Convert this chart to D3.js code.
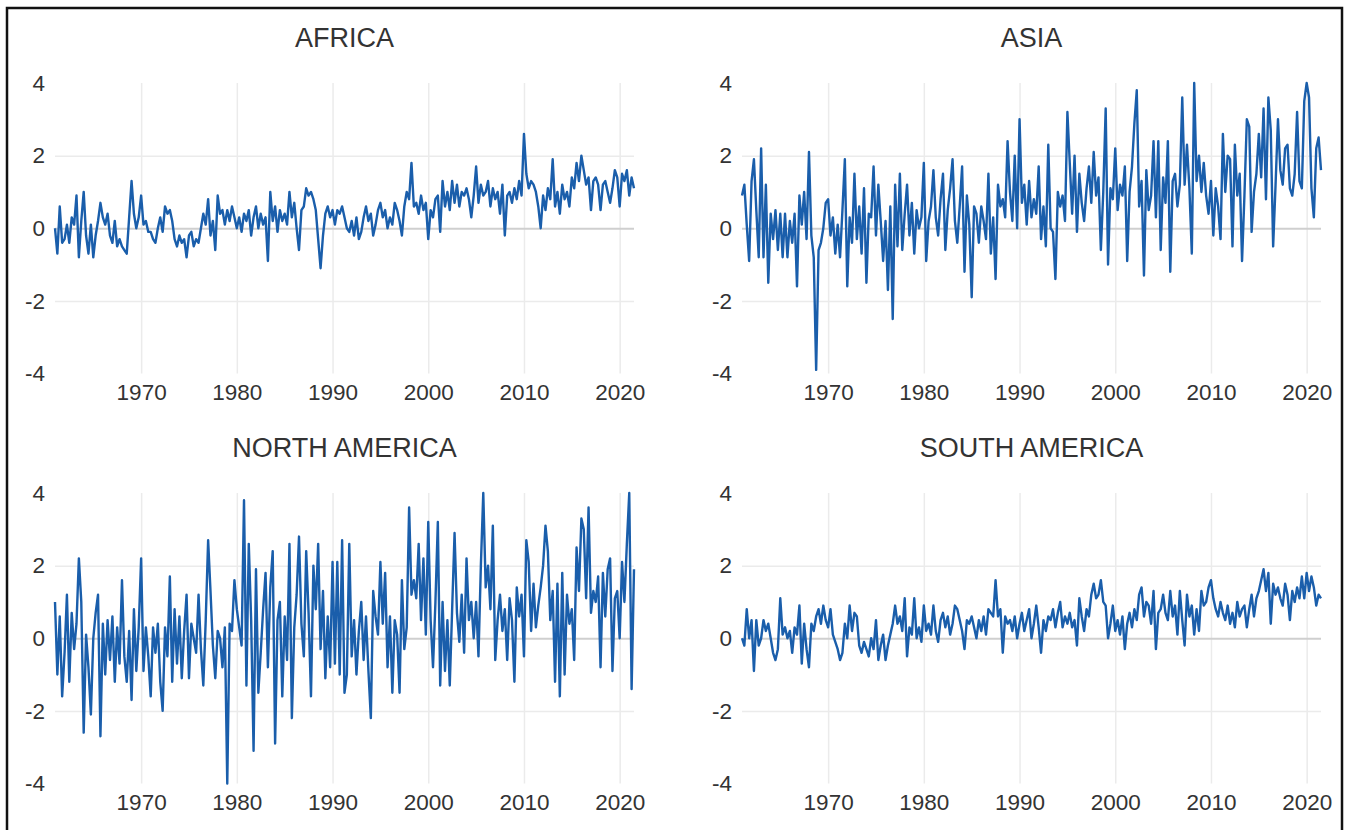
<!DOCTYPE html>
<html>
<head>
<meta charset="utf-8">
<script src="https://cdnjs.cloudflare.com/ajax/libs/d3/7.8.5/d3.min.js"></script>
<style>
  body { margin: 0; background: #fff; }
  svg text { font-family: "Liberation Sans", Arial, sans-serif; fill: #333; }
</style>
</head>
<body>
<svg id="chart" width="1349" height="830"></svg>
<script>
// quarterly anomalies, 1961 Q1 .. 2021 Q3
const africa = [
  0.0,-0.7,0.6,-0.4, -0.3,0.1,-0.4,0.3, 0.1,0.9,-0.8,0.2, 1.0,-0.2,-0.7,0.1, -0.8,-0.2,0.2,0.7, 0.3,0.1,0.4,-0.2, -0.4,0.2,-0.5,-0.3, -0.5,-0.6,-0.7,0.3, 1.3,0.4,0.0,0.3, 0.9,0.1,0.2,-0.1,
  -0.1,-0.3,-0.4,0.0, 0.3,-0.1,0.6,0.4, 0.5,0.2,-0.3,-0.5, -0.2,-0.4,-0.3,-0.8, -0.2,-0.1,-0.5,-0.3, -0.4,0.0,0.4,0.1, 0.8,-0.2,0.2,-0.6, 0.9,0.4,0.5,0.1, 0.5,0.2,0.6,0.3, 0.0,0.3,-0.1,0.4,
  0.2,0.5,-0.2,0.3, 0.6,0.0,0.4,0.1, 0.3,-0.9,1.0,0.2, 0.6,-0.1,0.5,0.2, 0.4,0.1,1.0,0.3, 0.7,0.0,-0.6,0.5, 0.6,1.1,0.9,1.0, 0.8,0.5,-0.3,-1.1, -0.2,0.4,0.6,0.3, 0.5,0.1,0.5,0.4,
  0.6,0.3,0.0,-0.1, 0.2,-0.2,0.3,-0.3, -0.1,0.3,0.6,0.2, 0.4,-0.2,0.1,0.5, 0.7,0.3,0.5,0.0, 0.3,0.1,0.7,0.5, 0.2,-0.2,0.6,1.0, 0.8,1.8,0.6,0.7, 0.4,0.9,0.5,0.7, -0.3,0.5,0.3,0.8,
  0.9,-0.1,1.3,0.6, 1.0,0.5,1.3,0.7, 1.2,0.6,1.0,0.9, 1.1,0.8,0.3,0.9, 1.7,0.7,1.2,0.9, 1.0,1.3,0.6,1.1, 0.8,1.0,0.4,1.2, -0.2,0.9,1.0,0.7, 1.1,0.8,1.3,0.9, 2.6,1.5,1.1,1.3,
  1.2,1.0,0.6,0.0, 0.9,0.5,1.1,0.8, 1.9,0.6,1.0,0.4, 1.2,0.8,1.0,0.6, 1.4,1.1,1.8,1.3, 2.0,1.6,1.2,1.4, 0.5,1.3,1.4,1.2, 0.5,1.2,1.3,1.0, 0.7,1.1,1.6,1.4, 0.6,1.5,1.3,1.6,
  0.9,1.4,1.1
];

const asia = [
  0.9,1.2,0.1,-0.9, 1.3,1.9,0.5,-0.8, 2.2,-0.8,1.2,-1.5, 0.4,-0.3,0.5,-0.6, 0.4,-0.8,0.4,-0.8, 0.2,-0.4,0.4,-1.6, 0.9,0.1,1.0,-0.3, 2.1,-0.2,-0.8,-3.9, -0.6,-0.4,0.0,0.7, 0.8,-0.2,0.3,-0.7,
  0.1,-0.8,0.5,1.9, -1.6,0.3,-0.4,1.5, -0.3,0.6,-0.7,1.1, -1.5,0.4,0.3,1.7, -0.2,1.2,0.2,-0.9, 0.2,-1.7,0.6,-2.5, 1.2,-0.5,1.5,-0.6, 0.4,1.2,-0.2,0.7, -0.7,0.5,0.0,0.3, 1.8,-0.9,0.2,0.6,
  1.6,0.3,-0.2,0.8, 1.5,-0.6,0.5,1.1, 1.9,0.2,-0.4,0.6, 1.7,-1.2,0.9,0.1, -1.9,0.6,0.4,-0.4, 0.6,0.2,-0.3,1.5, -0.7,0.3,-1.4,1.2, 0.6,0.8,0.3,2.4, 1.0,0.2,2.0,0.0, 3.0,0.7,1.2,0.1,
  1.3,0.3,0.8,0.4, 1.7,-0.3,0.6,-0.5, 2.3,0.0,-0.1,-1.4, 1.0,0.6,0.9,0.2, 3.2,1.8,0.4,2.0, -0.1,1.5,0.7,0.2, 1.1,1.7,0.7,2.1, 0.9,1.4,-0.6,1.0, 3.3,-1.0,1.1,0.8, 2.2,0.5,1.2,0.9,
  1.7,-0.9,1.0,1.7, 2.9,3.8,0.6,1.3, -1.3,1.6,0.5,0.9, 2.4,0.3,2.4,-0.6, 1.4,0.7,2.4,-1.2, 1.3,1.5,0.6,1.2, 3.6,1.2,2.3,1.1, -0.7,4.0,1.3,2.0, 1.0,1.8,0.9,0.4, 1.3,-0.2,1.1,0.6,
  -0.3,2.6,1.0,2.0, 1.9,-0.5,2.3,0.9, 1.5,-0.9,0.9,3.0, 2.8,-0.1,1.0,1.5, 2.6,1.4,3.3,0.8, 3.6,2.7,-0.5,1.2, 3.0,1.6,1.2,2.2, 2.3,1.1,0.9,1.5, 3.2,1.3,1.1,3.5, 4.0,3.6,1.1,0.3,
  2.2,2.5,1.6
];

const northAmerica = [
  1.0,-1.0,0.6,-1.6, -0.4,1.2,-1.2,0.7, -0.3,0.4,2.2,1.0, -2.6,0.1,-0.8,-2.1, 0.0,0.7,1.2,-2.7, 0.4,-1.0,0.5,-0.6, 0.6,-1.2,0.3,-0.7, 1.6,-0.5,-1.2,0.2, -1.7,0.8,-0.9,0.3, 2.2,-0.9,0.3,-0.5,
  -1.6,0.3,-0.4,0.4, -1.2,-2.0,0.3,-0.5, 1.7,-1.2,0.8,-0.7, 0.6,-1.1,0.2,1.2, -1.1,0.4,0.0,-0.4, 1.2,-0.3,-1.3,0.5, 2.7,1.3,-0.2,-1.1, 0.2,0.0,-0.8,0.3, -4.0,0.4,0.2,1.6, 0.8,0.3,-0.2,3.8,
  -1.3,2.6,0.5,-3.1, 1.9,-1.5,-0.4,0.8, 1.8,-0.8,1.4,2.4, -2.9,0.5,1.0,-1.6, 0.6,-0.6,2.6,-2.2, 0.3,1.2,2.8,0.4, -0.5,2.4,0.7,-1.6, 2.0,0.8,2.6,-0.3, 1.3,-1.1,0.6,-0.8, 2.1,-0.7,2.1,-1.0,
  2.7,-1.5,-1.0,2.6, -0.5,0.5,-1.0,0.2, 1.0,-0.6,0.6,-0.9, -2.2,1.3,0.6,0.1, 2.1,0.4,1.8,-0.8, 0.6,-1.5,0.5,0.1, -1.5,1.6,-0.3,0.3, 3.6,1.2,1.6,1.1, 2.6,0.5,2.2,0.1, 3.2,0.5,-0.8,1.0,
  3.2,-1.3,1.0,-0.9, 0.5,-1.3,0.8,2.9, 0.7,-0.1,1.2,-0.4, 2.2,0.5,1.0,0.0, 1.0,-0.5,2.0,4.0, 1.4,2.0,0.8,3.1, -0.6,0.5,1.2,0.2, 0.8,-0.6,1.1,0.5, -1.2,1.4,0.6,1.2, -0.5,2.7,2.1,0.2,
  1.5,0.3,0.9,1.4, 2.0,3.1,2.4,0.5, 1.3,-1.2,1.5,-1.6, 1.8,-1.0,1.2,0.4, 0.8,-0.6,2.5,1.3, 3.3,3.0,1.1,3.6, 0.7,1.3,1.0,1.7, -0.8,1.8,0.6,1.9, 2.2,-0.9,1.1,1.3, 0.0,2.1,1.0,2.6,
  4.0,-1.4,1.9
];

const southAmerica = [
  0.0,-0.2,0.8,0.0, 0.5,-0.9,0.5,-0.2, 0.0,0.5,0.2,0.4, 0.0,-0.4,-0.6,-0.3, 1.1,0.1,0.3,0.0, 0.2,-0.4,0.3,0.1, 0.9,-0.7,0.4,-0.3, -0.8,0.4,0.2,0.6, 0.8,0.4,0.9,0.5, 0.3,0.8,0.1,-0.1,
  -0.3,-0.6,-0.4,0.4, 0.0,0.9,0.2,0.7, 0.6,-0.2,-0.4,-0.1, -0.3,-0.5,0.0,-0.3, 0.5,-0.6,-0.2,0.1, -0.6,-0.2,0.1,0.4, 0.9,0.4,0.6,0.2, 1.1,-0.5,0.3,0.1, 1.1,0.0,0.3,-0.1, 0.9,0.2,0.4,0.1,
  0.9,0.2,-0.1,0.5, 0.7,0.3,0.6,0.1, 0.4,0.9,0.8,0.5, 0.2,-0.3,0.5,0.4, 0.6,0.3,0.0,0.5, 0.2,0.6,0.1,0.8, 0.7,0.6,1.6,0.6, 0.8,-0.4,0.6,0.4, 0.5,0.2,0.6,0.0, 0.4,0.7,0.2,0.5,
  0.8,0.0,0.4,0.9, 0.3,-0.4,0.5,0.2, 0.6,0.5,0.8,0.3, 0.7,1.0,0.3,0.6, 0.4,0.7,0.3,0.5, -0.2,1.1,0.6,0.2, 0.8,0.6,1.2,1.5, 1.1,1.2,1.6,1.0, 0.9,0.0,0.4,0.9, 0.2,0.5,0.1,0.6,
  -0.3,0.4,0.7,0.3, 0.8,0.5,1.2,1.4, 0.6,1.0,0.9,0.4, 1.3,-0.3,0.7,0.8, 1.2,0.7,0.5,1.3, 0.6,0.9,0.1,1.3, 0.5,-0.2,1.2,0.6, 0.9,0.1,0.8,0.2, 1.3,0.9,1.0,1.4, 1.6,1.1,0.8,0.6,
  1.0,0.7,0.5,0.9, 0.4,0.7,0.3,1.0, 0.6,0.8,0.9,0.3, 0.8,1.2,0.6,1.1, 1.3,1.6,1.9,1.3, 1.8,0.4,1.5,1.2, 1.4,1.1,0.9,1.5, 1.2,0.5,1.3,1.0, 1.4,1.1,1.7,1.1, 1.8,1.3,1.7,1.4,
  0.9,1.2,1.1
];

const regionNames = ["AFRICA", "ASIA", "NORTH AMERICA", "SOUTH AMERICA"];
const regionSeries = [africa, asia, northAmerica, southAmerica];
const xTickYears = [1970, 1980, 1990, 2000, 2010, 2020];
const yTicks = [-4, -2, 0, 2, 4];
const startYear = 1961;

const plotWidth = 579;
const plotHeight = 290.5;
const columns = [55, 742];
const rows = [83, 493];

const lineColor = "#1a5eab";

const quarterDate = i => d3.timeMonth.offset(new Date(startYear, 0, 1), i * 3);

const drawPanel = (svg, name, values, left, top) => {
	const dates = values.map((v, i) => quarterDate(i));

	const x = d3
		.scaleTime()
		.domain([dates[0], dates[dates.length - 1]])
		.range([0, plotWidth]);

	const y = d3
		.scaleLinear()
		.domain([-4, 4])
		.range([plotHeight, 0]);

	const g = svg
		.append("g")
		.attr("transform", `translate(${left},${top})`);

	// vertical grid
	g.append("g")
		.attr("class", "xgrid")
		.attr("transform", `translate(0,${plotHeight})`)
		.call(
			d3
				.axisBottom(x)
				.tickValues(xTickYears.map(yr => new Date(yr, 0, 1)))
				.tickSize(-plotHeight)
				.tickFormat("")
		)
		.call(a => a.select(".domain").remove())
		.call(a => a.selectAll("line").attr("stroke", "#ebebeb").attr("stroke-width", 1.5));

	// horizontal grid
	g.append("g")
		.attr("class", "ygrid")
		.call(
			d3
				.axisLeft(y)
				.tickValues([-2, 0, 2])
				.tickSize(-plotWidth)
				.tickFormat("")
		)
		.call(a => a.select(".domain").remove())
		.call(a =>
			a
				.selectAll(".tick line")
				.attr("stroke", d => (d === 0 ? "#cfcfcf" : "#ebebeb"))
				.attr("stroke-width", d => (d === 0 ? 2 : 1.5))
		);

	// tick labels
	g.append("g")
		.attr("transform", `translate(0,${plotHeight})`)
		.call(
			d3
				.axisBottom(x)
				.tickValues(xTickYears.map(yr => new Date(yr, 0, 1)))
				.tickSize(0)
				.tickPadding(11)
				.tickFormat(d3.timeFormat("%Y"))
		)
		.call(a => a.select(".domain").remove())
		.call(a => a.selectAll("text").style("font-size", "22.5px").attr("fill", "#333"));

	g.append("g")
		.call(
			d3
				.axisLeft(y)
				.tickValues(yTicks)
				.tickSize(0)
				.tickPadding(10)
				.tickFormat(d => String(d))
		)
		.call(a => a.select(".domain").remove())
		.call(a => a.selectAll("text").style("font-size", "22.5px").attr("fill", "#333"));

	const line = d3
		.line()
		.x((v, i) => x(dates[i]))
		.y(v => y(v));

	g.append("path")
		.datum(values)
		.attr("fill", "none")
		.attr("stroke", lineColor)
		.attr("stroke-width", 2.4)
		.attr("stroke-linejoin", "round")
		.attr("d", line);

	g.append("text")
		.attr("x", plotWidth / 2)
		.attr("y", -36)
		.attr("text-anchor", "middle")
		.style("font-size", "27px")
		.attr("fill", "#222")
		.text(name);
};

const main = () => {
	const svg = d3.select("#chart");

	svg.append("rect")
		.attr("x", 7)
		.attr("y", 8)
		.attr("width", 1335)
		.attr("height", 840)
		.attr("fill", "none")
		.attr("stroke", "#111")
		.attr("stroke-width", 2.5);

	regionNames.forEach((name, i) => {
		drawPanel(svg, name, regionSeries[i], columns[i % 2], rows[Math.floor(i / 2)]);
	});
};

main();
</script>
</body>
</html>
